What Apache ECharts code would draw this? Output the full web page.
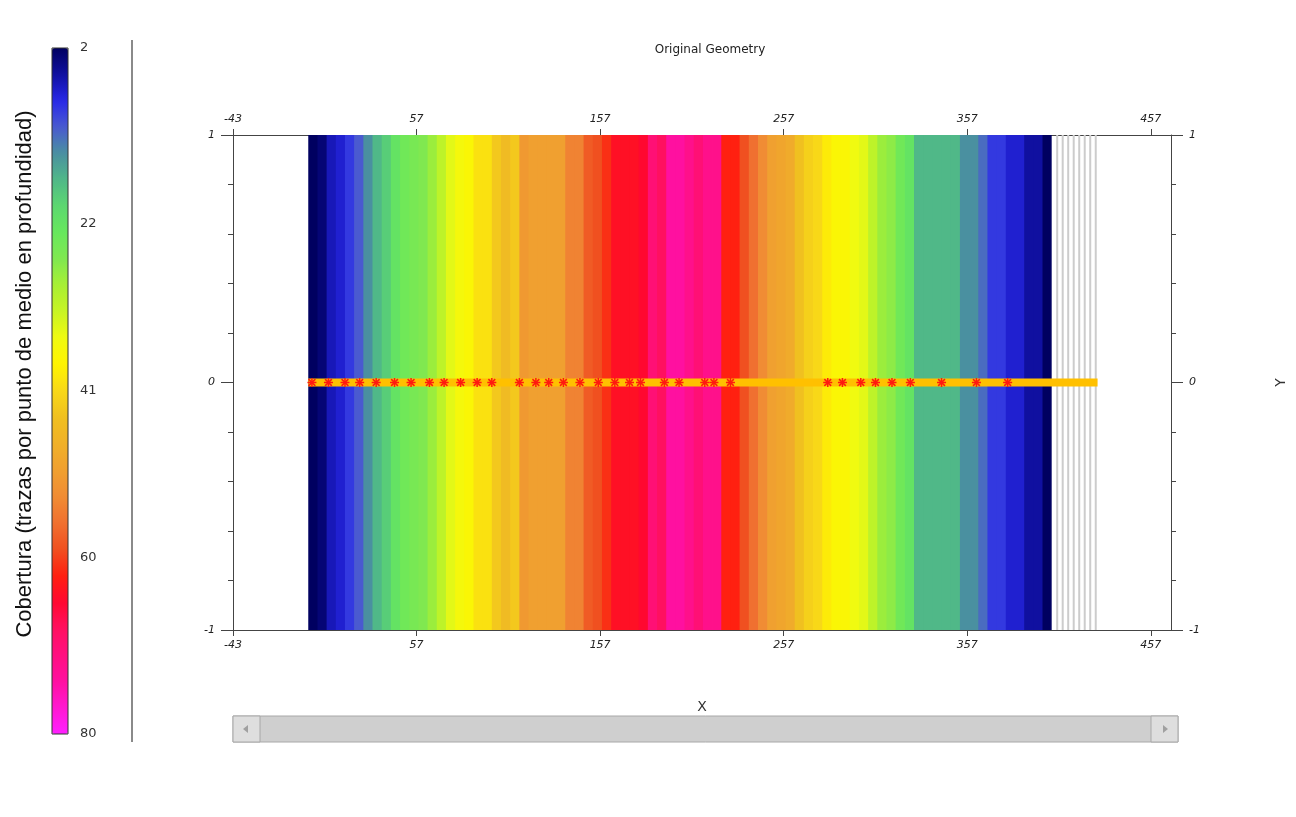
<!DOCTYPE html>
<html>
<head>
<meta charset="utf-8">
<script src="https://cdn.jsdelivr.net/npm/echarts@6/dist/echarts.min.js"></script>
<style>html,body{margin:0;padding:0;background:#fff;}#c{width:1296px;height:817px;}</style>
</head>
<body>
<div id="c"></div>
<script>
// ---- data ----
const xTicks = [-43, 57, 157, 257, 357, 457];
const colorbarTicks = [2, 22, 41, 60, 80];
const foldMin = 2, foldMax = 80;
const binStart = -2, binWidth = 5;
const foldValues = [2,3,6,7,9,11,14,17,19,22,24,25,26,28,31,34,36,37,40,40,43,45,43,51,50,50,50,50,54,54,
  58,59,61,64,64,64,65,70,68,74,74,72,70,72,72,62,62,59,56,53,50,49,48,44,42,41,39,37,37,35,
  34,31,28,27,24,22,17,17,17,17,17,14,14,12,9,9,7,7,5,5,2];
const receiverX = [406,409,412,415,418,421,424,427];
const shotX = [0,9,18,26,35,45,54,64,72,81,90,98,113,122,129,137,146,156,165,173,179,192,200,214,219,228,
  281,289,299,307,316,326,343,362,379];
const profileLine = [[-2,0],[428,0]];
const foldColors = ['#000060','#1010a0','#2828e8','#4a5ad0','#4a90a0','#50b888','#5cd870','#68e85c','#80e850',
  '#a8f034','#c8f424','#f0fa10','#fff400','#f8d818','#f0c020','#f0b028','#f0a030','#f08c34','#f07030',
  '#f05020','#ff2010','#ff0830','#ff1060','#ff1080','#ff10a0','#ff18d0','#ff20ff'];

const stripData = foldValues.map((v, i) => [binStart + i * binWidth, binStart + (i + 1) * binWidth, v]);

const tickFont = {fontStyle: 'italic', fontSize: 11, color: '#222', fontFamily: 'DejaVu Sans'};
const axisLine = {show: true, onZero: false, lineStyle: {color: '#444', width: 1}};

const chart = echarts.init(document.getElementById('c'));
chart.setOption({
  animation: false,
  title: {text: 'Original Geometry', left: 705, top: 39, textAlign: 'center',
    textStyle: {fontSize: 12, fontWeight: 'normal', color: '#222', fontFamily: 'DejaVu Sans'}},
  grid: [
    {left: 233, top: 135, width: 945, height: 495},
    {left: 52, top: 48, width: 16, height: 686}
  ],
  xAxis: [
    {type: 'value', gridIndex: 0, min: -43, max: 468, position: 'bottom',
      name: 'X', nameLocation: 'middle', nameGap: 70,
      nameTextStyle: {fontSize: 14, color: '#333', fontFamily: 'DejaVu Sans'},
      axisLine: axisLine, splitLine: {show: false},
      axisTick: {show: true, length: 6, customValues: xTicks, lineStyle: {color: '#444'}},
      axisLabel: Object.assign({customValues: xTicks, margin: 10}, tickFont)},
    {type: 'value', gridIndex: 0, min: -43, max: 468, position: 'top',
      axisLine: axisLine, splitLine: {show: false},
      axisTick: {show: true, length: 6, customValues: xTicks, lineStyle: {color: '#444'}},
      axisLabel: Object.assign({customValues: xTicks, margin: 10}, tickFont)},
    {type: 'value', gridIndex: 1, min: 0, max: 1, show: false}
  ],
  yAxis: [
    {type: 'value', gridIndex: 0, min: -1, max: 1, interval: 1, position: 'left',
      axisLine: axisLine, splitLine: {show: false},
      axisTick: {show: true, length: 12, lineStyle: {color: '#444'}},
      minorTick: {show: true, splitNumber: 5, length: 5, lineStyle: {color: '#444'}},
      minorSplitLine: {show: false},
      axisLabel: Object.assign({margin: 18}, tickFont)},
    {type: 'value', gridIndex: 0, min: -1, max: 1, interval: 1, position: 'right',
      name: 'Y', nameLocation: 'middle', nameGap: 103, nameRotate: 90,
      nameTextStyle: {fontSize: 14, color: '#333', fontFamily: 'DejaVu Sans'},
      axisLine: axisLine, splitLine: {show: false},
      axisTick: {show: true, length: 12, lineStyle: {color: '#444'}},
      minorTick: {show: true, splitNumber: 5, length: 5, lineStyle: {color: '#444'}},
      minorSplitLine: {show: false},
      axisLabel: Object.assign({margin: 18}, tickFont)},
    {type: 'value', gridIndex: 1, min: foldMin, max: foldMax, inverse: true, position: 'right',
      axisLine: {show: false}, axisTick: {show: false}, splitLine: {show: false},
      axisLabel: {customValues: colorbarTicks, margin: 12, fontSize: 13, color: '#333', fontFamily: 'DejaVu Sans'}}
  ],
  visualMap: {
    type: 'continuous', min: foldMin, max: foldMax, seriesIndex: 0, dimension: 2,
    inverse: true, orient: 'vertical', left: 52, top: 48, itemWidth: 16, itemHeight: 686,
    padding: 0, calculable: false, text: null, realtime: false,
    inRange: {color: foldColors}
  },
  series: [
    {type: 'custom', xAxisIndex: 0, yAxisIndex: 0, data: stripData, encode: {x: [0, 1], y: []},
      z: 1,
      renderItem: function (params, api) {
        const p0 = api.coord([api.value(0), 1]);
        const p1 = api.coord([api.value(1), -1]);
        const extra = params.dataIndex < foldValues.length - 1 ? 0.8 : 0;
        return {type: 'rect', shape: {x: p0[0], y: p0[1], width: p1[0] - p0[0] + extra, height: p1[1] - p0[1]},
          style: {fill: api.visual('color')}};
      }},
    {type: 'custom', xAxisIndex: 0, yAxisIndex: 0, data: receiverX.map(x => [x]), encode: {x: 0},
      z: 2,
      renderItem: function (params, api) {
        const a = api.coord([api.value(0), 1]);
        const b = api.coord([api.value(0), -1]);
        return {type: 'line', shape: {x1: a[0], y1: a[1], x2: b[0], y2: b[1]},
          style: {stroke: '#cccccc', lineWidth: 2}};
      }},
    {type: 'line', xAxisIndex: 0, yAxisIndex: 0, data: profileLine, symbol: 'none', z: 3,
      lineStyle: {color: '#ffc000', width: 8, cap: 'butt'}, silent: true},
    {type: 'custom', xAxisIndex: 0, yAxisIndex: 0, data: shotX.map(x => [x, 0]), encode: {x: 0, y: 1},
      z: 4,
      renderItem: function (params, api) {
        const c = api.coord([api.value(0), api.value(1)]);
        const r = 4.5, d = 3.4;
        const st = {stroke: '#ff1a10', lineWidth: 1.5};
        return {type: 'group', children: [
          {type: 'line', shape: {x1: c[0] - r, y1: c[1], x2: c[0] + r, y2: c[1]}, style: st},
          {type: 'line', shape: {x1: c[0], y1: c[1] - r, x2: c[0], y2: c[1] + r}, style: st},
          {type: 'line', shape: {x1: c[0] - d, y1: c[1] - d, x2: c[0] + d, y2: c[1] + d}, style: st},
          {type: 'line', shape: {x1: c[0] - d, y1: c[1] + d, x2: c[0] + d, y2: c[1] - d}, style: st}
        ]};
      }}
  ],
  graphic: [
    {type: 'rect', z: 100, silent: true,
      shape: {x: 52, y: 48, width: 16, height: 686}, style: {fill: 'none', stroke: '#333', lineWidth: 1}},
    {type: 'text', x: 25, y: 374, rotation: Math.PI / 2, z: 100,
      style: {text: 'Cobertura (trazas por punto de medio en profundidad)', fontSize: 22,
        fontFamily: 'Liberation Sans', fill: '#111', align: 'center', verticalAlign: 'middle'}},
    {type: 'line', shape: {x1: 132, y1: 40, x2: 132, y2: 742}, style: {stroke: '#8a8a8a', lineWidth: 2}},
    {type: 'rect', shape: {x: 233, y: 716, width: 945, height: 26}, style: {fill: '#cfcfcf', stroke: '#a8a8a8', lineWidth: 1}},
    {type: 'rect', shape: {x: 233, y: 716, width: 27, height: 26}, style: {fill: '#dedede', stroke: '#a8a8a8', lineWidth: 1}},
    {type: 'rect', shape: {x: 1151, y: 716, width: 27, height: 26}, style: {fill: '#dedede', stroke: '#a8a8a8', lineWidth: 1}},
    {type: 'polygon', shape: {points: [[243, 729], [248, 725], [248, 733]]}, style: {fill: '#a0a0a0'}},
    {type: 'polygon', shape: {points: [[1168, 729], [1163, 725], [1163, 733]]}, style: {fill: '#a0a0a0'}}
  ]
});
</script>
</body>
</html>
